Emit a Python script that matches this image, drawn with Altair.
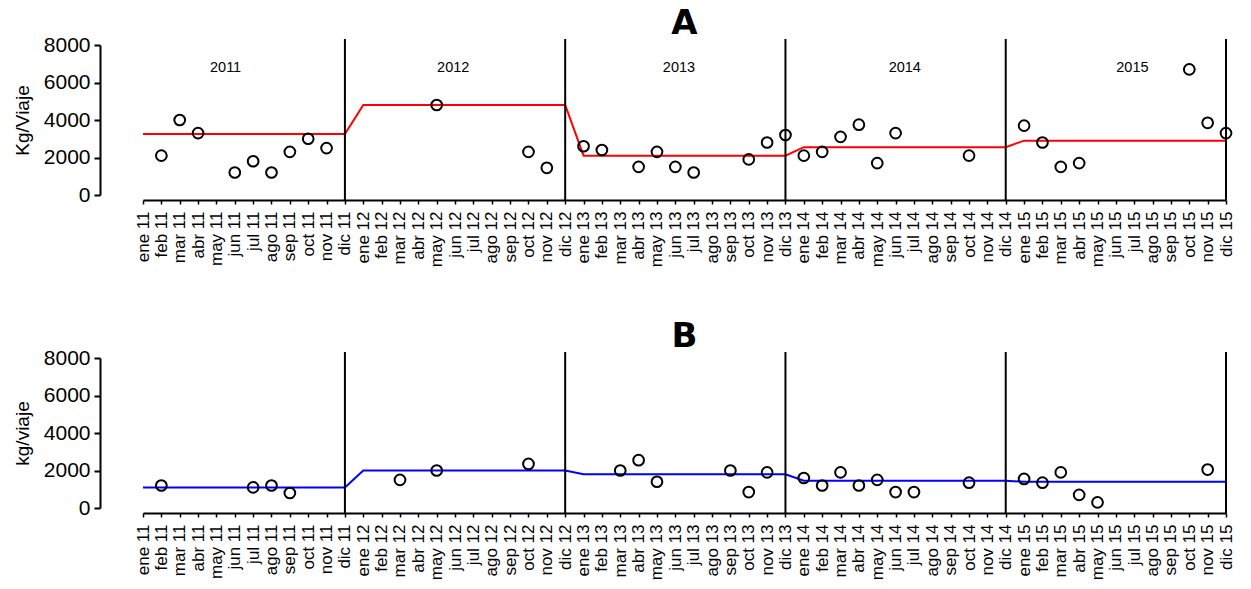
import json
import altair as alt
import pandas as pd

# Month axis: ene 11 ... dic 15
month_names = ["ene", "feb", "mar", "abr", "may", "jun", "jul", "ago", "sep", "oct", "nov", "dic"]
year_codes = [11, 12, 13, 14, 15]
month_labels = [f"{m} {y}" for y in year_codes for m in month_names]

year_names = ["2011", "2012", "2013", "2014", "2015"]

# Panel A: monthly Kg/Viaje
a_months = ["feb 11", "mar 11", "abr 11", "jun 11", "jul 11", "ago 11", "sep 11", "oct 11", "nov 11",
            "may 12", "oct 12", "nov 12",
            "ene 13", "feb 13", "abr 13", "may 13", "jun 13", "jul 13", "oct 13", "nov 13", "dic 13",
            "ene 14", "feb 14", "mar 14", "abr 14", "may 14", "jun 14", "oct 14",
            "ene 15", "feb 15", "mar 15", "abr 15", "oct 15", "nov 15", "dic 15"]
a_values = [2100, 4000, 3300, 1200, 1800, 1200, 2300, 3000, 2500,
            4800, 2300, 1450,
            2600, 2400, 1500, 2300, 1500, 1200, 1900, 2800, 3200,
            2100, 2300, 3100, 3750, 1700, 3300, 2100,
            3700, 2800, 1500, 1700, 6700, 3850, 3300]
a_year_level = [3250, 4800, 2100, 2550, 2900]

# Panel B: monthly kg/viaje
b_months = ["feb 11", "jul 11", "ago 11", "sep 11",
            "mar 12", "may 12", "oct 12",
            "mar 13", "abr 13", "may 13", "sep 13", "oct 13", "nov 13",
            "ene 14", "feb 14", "mar 14", "abr 14", "may 14", "jun 14", "jul 14", "oct 14",
            "ene 15", "feb 15", "mar 15", "abr 15", "may 15", "nov 15"]
b_values = [1200, 1100, 1200, 800,
            1500, 2000, 2350,
            2000, 2550, 1400, 2000, 850, 1900,
            1600, 1200, 1900, 1200, 1500, 850, 850, 1350,
            1550, 1350, 1900, 700, 300, 2050]
b_year_level = [1100, 2000, 1800, 1450, 1400]

W, H = 1083, 150
FONT = "Liberation Sans"
XLAB, YLAB, YTIT = 17, 21, 19
label_expr = json.dumps(month_labels) + "[datum.value]"


def points_frame(months, values):
    return pd.DataFrame({"idx": [month_labels.index(m) for m in months], "v": values})


def level_frame(levels):
    rows = []
    for k, lv in enumerate(levels):
        rows.append({"idx": 12 * k, "v": lv})
        rows.append({"idx": 12 * k + 11, "v": lv})
    return pd.DataFrame(rows)


def panel(title, ytitle, months, values, levels, color, with_years):
    x = alt.X(
        "idx:Q",
        scale=alt.Scale(domain=[0, 59], nice=False, zero=False),
        axis=alt.Axis(
            values=list(range(60)), labelExpr=label_expr, labelAngle=-90,
            labelFont=FONT, labelFontSize=XLAB, labelColor="black",
            labelPadding=7, labelOverlap=False, labelFlush=False, labelBound=False,
            tickSize=4, tickColor="black", tickWidth=1.5,
            domainColor="black", domainWidth=2, grid=False, offset=5, title=None,
        ),
    )
    y = alt.Y(
        "v:Q",
        scale=alt.Scale(domain=[0, 8000], nice=False),
        axis=alt.Axis(
            values=[0, 2000, 4000, 6000, 8000], format="d",
            labelFont=FONT, labelFontSize=YLAB, labelColor="black", labelPadding=4,
            labelFlush=False, labelOverlap=False,
            tickSize=6, tickColor="black", tickWidth=2,
            domainColor="black", domainWidth=2, grid=False, offset=43,
            title=ytitle, titleFont=FONT, titleFontSize=YTIT, titleFontWeight="normal",
            titleColor="black", titlePadding=11,
        ),
    )

    level = alt.Chart(level_frame(levels)).mark_line(color=color, strokeWidth=2).encode(
        x=x, y=y, order="idx:Q"
    )
    pts = alt.Chart(points_frame(months, values)).mark_point(
        shape="circle", filled=False, size=115, strokeWidth=2, color="black", opacity=1
    ).encode(x=x, y=y)

    seps = alt.Chart(pd.DataFrame({"idx": [12 * k + 11 for k in range(5)]})).mark_rule(
        color="black", strokeWidth=2
    ).encode(x=x, y=alt.value(-6), y2=alt.value(H + 5))

    layers = [level, seps, pts]
    if with_years:
        year_pos = [4.5, 16.9, 29.2, 41.5, 53.9]
        yrs = alt.Chart(pd.DataFrame({"idx": year_pos, "v": [6750] * 5, "t": year_names})).mark_text(
            font=FONT, fontSize=14.5, color="black"
        ).encode(x=x, y=y, text="t:N")
        layers.append(yrs)

    return alt.layer(*layers).properties(
        width=W, height=H,
        title=alt.TitleParams(title, font="DejaVu Sans", fontSize=34, fontWeight="bold",
                              color="black", anchor="middle", offset=-7),
    )


chart = alt.vconcat(
    panel("A", "Kg/Viaje", a_months, a_values, a_year_level, "#ff0000", True),
    panel("B", "kg/viaje", b_months, b_values, b_year_level, "#0000ff", False),
    spacing=53,
).configure_view(stroke=None).configure_axisX(
    labelFont=FONT, labelFontSize=XLAB, labelColor="black"
).configure_axisY(
    labelFont=FONT, labelFontSize=YLAB, labelColor="black",
    titleFont=FONT, titleFontSize=YTIT, titleFontWeight="normal", titleColor="black",
).properties(
    background="white",
    padding={"left": 13, "top": 7, "right": 10, "bottom": 5},
)

chart.save("out.html", embed_options={"renderer": "svg", "actions": False})
